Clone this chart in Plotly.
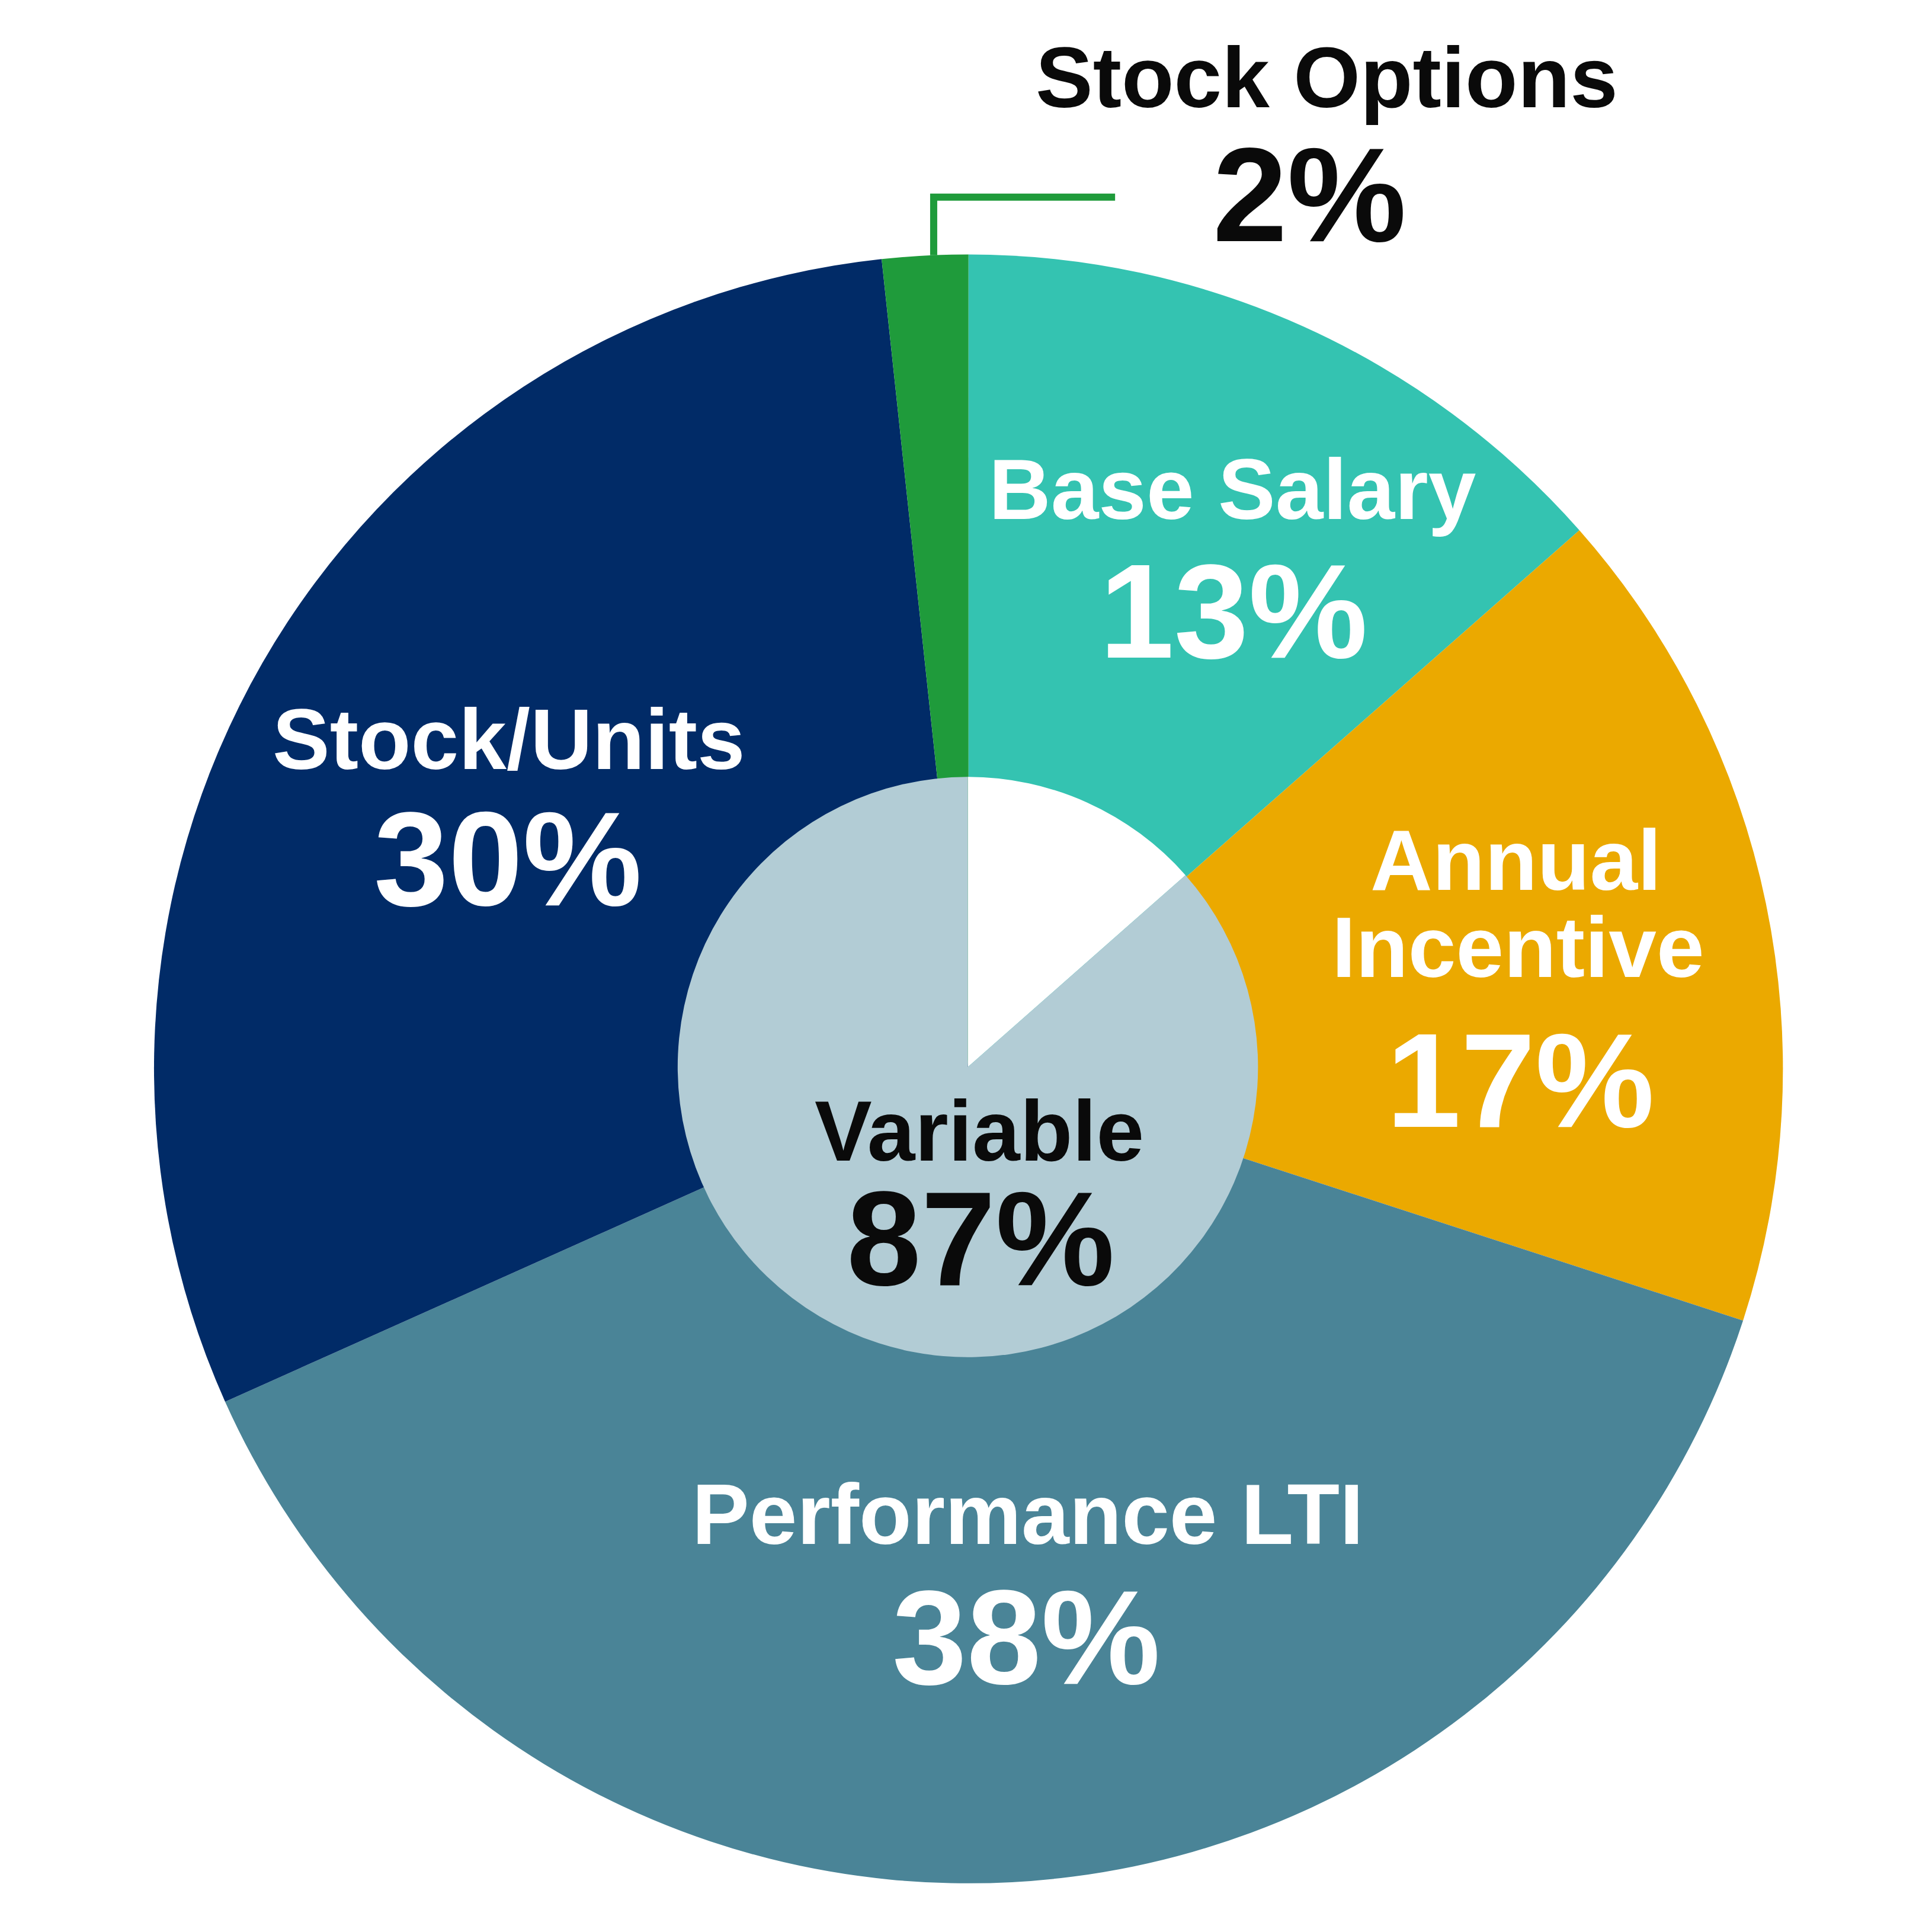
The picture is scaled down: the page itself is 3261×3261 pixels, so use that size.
import math
import plotly.graph_objects as go

# pay mix data
components = ["Base Salary", "Annual Incentive", "Performance LTI", "Stock/Units", "Stock Options"]
shares = [13.5, 16.5, 38.3, 30.0, 1.7]
share_labels = ["13%", "17%", "38%", "30%", "2%"]

inner_parts = ["Base Salary", "Variable"]
inner_shares = [13.5, 86.5]
inner_labels = ["13%", "87%"]

outer_colors = ["#34C3B1", "#EBA900", "#4A8497", "#012B67", "#1F9B3B"]
inner_colors = ["#FFFFFF", "#B2CCD5"]

W = 3261
FONT = "Liberation Sans, Arial, sans-serif"
REF = 1568          # reference pixel grid used for reading positions
OFF = 8 / W * REF   # page body margin shifts everything by 8px


def fx(px):
    return (px - OFF) / REF


def fy(py):
    return 1 - (py - OFF) / REF


def dom(cx, cy, r):
    return dict(x=[cx - r, cx + r], y=[cy - r, cy + r])


outer_c = (fx(786), fy(867.5))
outer_r = 661 / REF
inner_c = (fx(785.5), fy(866))
inner_r = 235.5 / REF

fig = go.Figure()
fig.add_trace(go.Pie(
    labels=components, values=shares, sort=False, direction="clockwise", rotation=0,
    marker=dict(colors=outer_colors, line=dict(width=0)),
    textinfo="none", hoverinfo="label+percent",
    domain=dom(outer_c[0], outer_c[1], outer_r),
))
fig.add_trace(go.Pie(
    labels=inner_parts, values=inner_shares, sort=False, direction="clockwise", rotation=0,
    marker=dict(colors=inner_colors, line=dict(width=0)),
    textinfo="none", hoverinfo="label+percent",
    domain=dom(inner_c[0], inner_c[1], inner_r),
))

# label centres in reference pixels: one entry per text line of the name, then the percent
name_pos = {
    "Base Salary": [(1000, 397)],
    "Annual Incentive": [(1230, 698), (1232, 769)],
    "Performance LTI": [(834, 1229)],
    "Stock/Units": [(413, 600)],
    "Stock Options": [(1077, 63)],
}
pct_pos = {
    "Base Salary": (1001, 496),
    "Annual Incentive": (1234, 877),
    "Performance LTI": (833, 1329),
    "Stock/Units": (412, 697),
    "Stock Options": (1063, 158),
}


def label(x, y, text, size, color):
    fig.add_annotation(x=fx(x), y=fy(y), xref="paper", yref="paper",
                       xanchor="center", yanchor="middle",
                       text=f"<b>{text}</b>", showarrow=False,
                       font=dict(family=FONT, size=size, color=color))


for name, pct in zip(components, share_labels):
    col = "#0A0A0A" if name == "Stock Options" else "white"
    lines = name.split(" ") if len(name_pos[name]) > 1 else [name]
    for (x, y), line in zip(name_pos[name], lines):
        label(x, y, line, 145, col)
    label(*pct_pos[name], pct, 226, col)

label(795, 918, inner_parts[1], 145, "#0A0A0A")
label(796, 1005, inner_labels[1], 226, "#0A0A0A")

# leader line for the small stock options slice
ang = (sum(shares[:-1]) + shares[-1] * 0.6) / sum(shares) * 2 * math.pi
lx = outer_c[0] + outer_r * math.sin(ang)
ly = outer_c[1] + outer_r * math.cos(ang)
elbow_y = fy(160)
end_x = fx(905)
fig.add_shape(type="path", xref="paper", yref="paper",
              path=f"M {lx},{ly} L {lx},{elbow_y} L {end_x},{elbow_y}",
              line=dict(color=outer_colors[-1], width=12))

fig.update_layout(width=W, height=W, margin=dict(l=0, r=0, t=0, b=0),
                  showlegend=False, paper_bgcolor="white", plot_bgcolor="white")
fig.write_html("out.html")
